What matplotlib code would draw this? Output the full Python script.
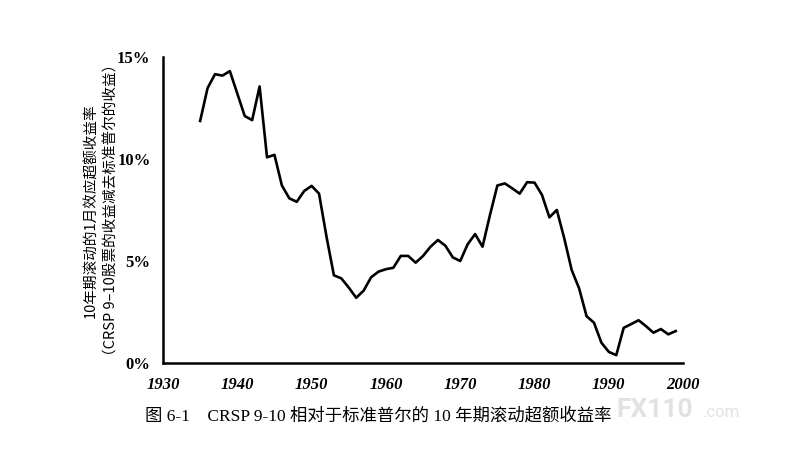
import matplotlib.pyplot as plt

# 数据：10年期滚动超额收益率（%）
years = list(range(1935, 2000))
excess = [11.86, 13.47, 14.15, 14.08, 14.3, 13.2, 12.1, 11.9, 13.55, 10.08,
          10.2, 8.7, 8.07, 7.9, 8.43, 8.68, 8.3, 6.2, 4.3, 4.15,
          3.7, 3.2, 3.55, 4.2, 4.48, 4.6, 4.67, 5.25, 5.25, 4.92,
          5.25, 5.7, 6.03, 5.75, 5.18, 5.0, 5.82, 6.32, 5.7, 7.25,
          8.7, 8.8, 8.56, 8.3, 8.86, 8.84, 8.24, 7.14, 7.5, 6.11,
          4.56, 3.66, 2.3, 1.98, 1.0, 0.55, 0.39, 1.73, 1.91, 2.1,
          1.81, 1.49, 1.67, 1.41, 1.57]
xticks = [1930, 1940, 1950, 1960, 1970, 1980, 1990, 2000]
yticks = [0, 5, 10, 15]
ytick_labels = ['0%', '5%', '10%', '15%']

cjk = ['Noto Sans CJK SC', 'DejaVu Sans']
serif = ['Liberation Serif', 'DejaVu Serif']
serif_cjk = ['Liberation Serif', 'Noto Sans CJK SC']

fig = plt.figure(figsize=(7.99, 4.62), dpi=100)
ax = fig.add_axes([0.204, 0.214, 0.651, 0.663])

ax.plot(years, excess, color='black', linewidth=1.9)

ax.set_xlim(1930, 2000)
ax.set_ylim(0, 15)
ax.set_xticks(xticks)
ax.set_xticklabels([str(t) for t in xticks], family=serif,
                   fontweight='bold', fontstyle='italic', fontsize=12)
ax.set_yticks(yticks)
ax.set_yticklabels(ytick_labels, family=serif, fontweight='bold', fontsize=12)
ax.tick_params(length=0)
ax.tick_params(axis='y', pad=9)
ax.tick_params(axis='x', pad=10)

for s in ['top', 'right']:
    ax.spines[s].set_visible(False)
for s in ['left', 'bottom']:
    ax.spines[s].set_linewidth(1.8)

# 纵轴标题（两行）
fig.text(0.114, 0.545, '10年期滚动的1月效应超额收益率', rotation=90,
         family=cjk, fontsize=10.5, ha='center', va='center')
fig.text(0.139, 0.545, '（CRSP 9–10股票的收益减去标准普尔的收益）', rotation=90,
         family=cjk, fontsize=10.5, ha='center', va='center')

# 图题
fig.text(0.182, 0.1, '图 6-1    CRSP 9-10 相对于标准普尔的 10 年期滚动超额收益率',
         family=serif_cjk, fontsize=12.5, ha='left', va='center')

# 水印
fig.text(0.772, 0.097, 'FX110', family=['Roboto', 'DejaVu Sans'], fontsize=19,
         fontweight='bold', color='#e2e2e2', ha='left', va='baseline')
fig.text(0.88, 0.097, '.com', family=['Roboto', 'DejaVu Sans'], fontsize=12,
         color='#e2e2e2', ha='left', va='baseline')

fig.savefig('out.png', dpi=100)
